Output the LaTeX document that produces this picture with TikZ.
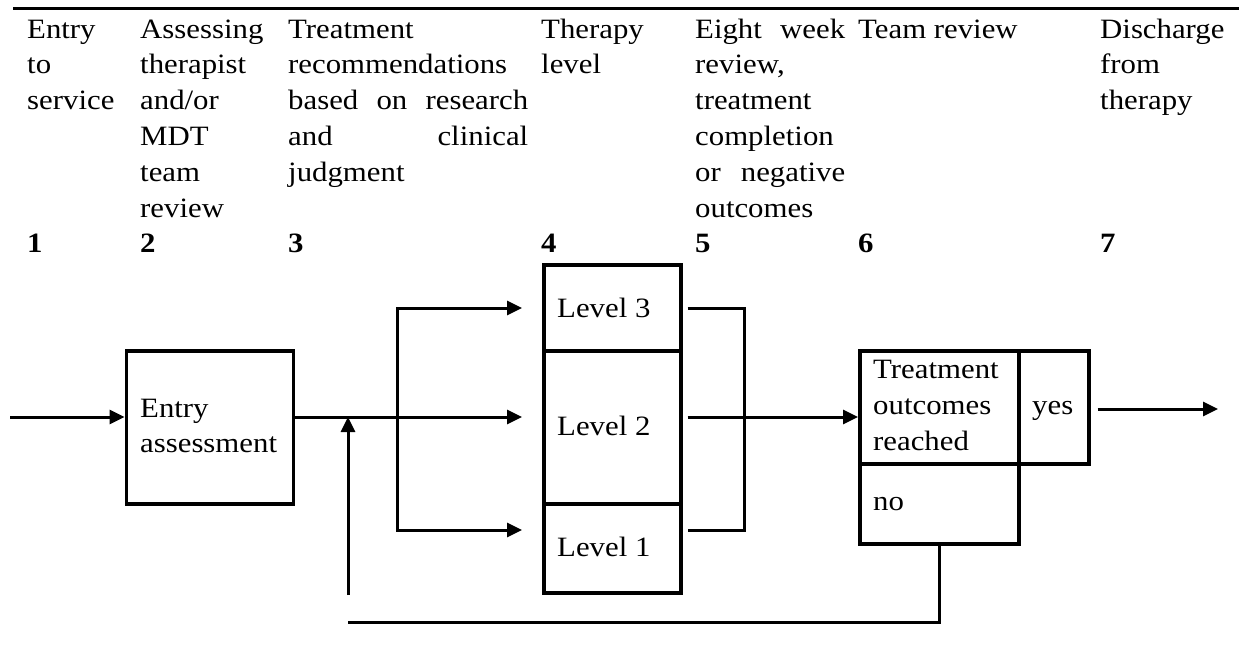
\documentclass[tikz,border=0pt]{standalone}
\usepackage{fontspec}
\setmainfont{Liberation Serif}[FakeStretch=1.1]
\usetikzlibrary{arrows.meta}
\newcommand{\hdrfont}{\fontsize{28}{35.8}\selectfont}
\begin{document}
\begin{tikzpicture}[x=1pt,y=-1pt,
  every node/.style={inner sep=0pt},
  hd/.style={anchor=base west, font=\hdrfont},
  num/.style={anchor=base west, font=\hdrfont\bfseries},
  frame/.style={draw, line width=3.5pt, anchor=north west},
  conn/.style={line width=3pt},
  arr/.style={line width=3pt, -{Triangle[length=15pt,width=14pt]}},
  arrboth/.style={line width=3pt, {Triangle[length=15pt,width=14pt]}-{Triangle[length=15pt,width=14pt]}},
]
\useasboundingbox (0,0) rectangle (1239,654);
\coordinate (rl) at (13,8);
\coordinate (rr) at (1239,8);
\draw[line width=3pt] (rl) -- (rr);

% column 1
\node[hd] (h1a) at (27,38) {Entry};
\node[hd] (h1b) at (27,73.8) {to};
\node[hd] (h1c) at (27,109.6) {service};
% column 2
\node[hd] (h2a) at (140,38) {Assessing};
\node[hd] (h2b) at (140,73.8) {therapist};
\node[hd] (h2c) at (140,109.6) {and/or};
\node[hd] (h2d) at (140,145.4) {MDT};
\node[hd] (h2e) at (140,181.2) {team};
\node[hd] (h2f) at (140,217) {review};
% column 3
\node[hd] (h3a) at (288,38) {Treatment};
\node[hd] (h3b) at (288,73.8) {recommendations};
\node[hd] (h3c) at (288,109.6) {\makebox[240pt][s]{based on research}};
\node[hd] (h3d) at (288,145.4) {\makebox[240pt][s]{and clinical}};
\node[hd] (h3e) at (288,181.2) {judgment};
% column 4
\node[hd] (h4a) at (541,38) {Therapy};
\node[hd] (h4b) at (541,73.8) {level};
% column 5
\node[hd] (h5a) at (695,38) {\makebox[150pt][s]{Eight week}};
\node[hd] (h5b) at (695,73.8) {review,};
\node[hd] (h5c) at (695,109.6) {treatment};
\node[hd] (h5d) at (695,145.4) {completion};
\node[hd] (h5e) at (695,181.2) {\makebox[150pt][s]{or negative}};
\node[hd] (h5f) at (695,217) {outcomes};
% column 6
\node[hd] (h6a) at (858,38) {Team review};
% column 7
\node[hd] (h7a) at (1100,38) {Discharge};
\node[hd] (h7b) at (1100,73.8) {from};
\node[hd] (h7c) at (1100,109.6) {therapy};

% numbers
\node[num] (n1) at (27,252.8) {1};
\node[num] (n2) at (140,252.8) {2};
\node[num] (n3) at (288,252.8) {3};
\node[num] (n4) at (541,252.8) {4};
\node[num] (n5) at (695,252.8) {5};
\node[num] (n6) at (858,252.8) {6};
\node[num] (n7) at (1100,252.8) {7};

% boxes
\node[frame, minimum width=167pt, minimum height=153pt] (entry) at (124.5,349) {};
\node[hd] (entryt1) at (140,417) {Entry};
\node[hd] (entryt2) at (140,452) {assessment};

\node[frame, minimum width=137pt, minimum height=86pt] (l3) at (542,263) {};
\node[frame, minimum width=137pt, minimum height=153pt] (l2) at (542,349) {};
\node[frame, minimum width=137pt, minimum height=89pt] (l1) at (542,502) {};
\node[hd] (l3t) at (557,317) {Level 3};
\node[hd] (l2t) at (557,435) {Level 2};
\node[hd] (l1t) at (557,556) {Level 1};

\node[frame, minimum width=159pt, minimum height=113pt] (out) at (858,349) {};
\node[frame, minimum width=70pt, minimum height=113pt] (yes) at (1017,349) {};
\node[frame, minimum width=159pt, minimum height=80pt] (no) at (858,462) {};
\node[hd] (outt1) at (873,378) {Treatment};
\node[hd] (outt2) at (873,414) {outcomes};
\node[hd] (outt3) at (873,450) {reached};
\node[hd] (yest) at (1032,414) {yes};
\node[hd] (not) at (873,510) {no};

% connectors
\coordinate (in0) at (10,417);
\coordinate (b3) at (397,308);
\coordinate (b1) at (397,530);
\coordinate (br3) at (744,308);
\coordinate (br1) at (744,530);
\coordinate (fb0) at (348,595);
\coordinate (fb1) at (348,622);
\coordinate (exit) at (1218,409);

\draw[arr] (in0) -- (entry.west |- in0);
\draw[arr, shorten >=20pt] (entry.east |- in0) -- (l2.west |- in0);
\draw[arrboth, shorten <=20pt, shorten >=20pt] (l3.west |- b3) -- (b3) -- (b1) -- (l1.west |- b1);
\draw[arr] (fb0) -- (fb0 |- in0);
\draw[conn] ([xshift=5pt]l3.east |- b3) -- (br3) -- (br1) -- ([xshift=5pt]l1.east |- b1);
\draw[arr] ([xshift=5pt]l2.east |- in0) -- (out.west |- in0);
\draw[arr] ([xshift=7pt]yes.east |- exit) -- (exit);
\draw[conn] (no.south) |- (fb1);
\end{tikzpicture}
\end{document}
